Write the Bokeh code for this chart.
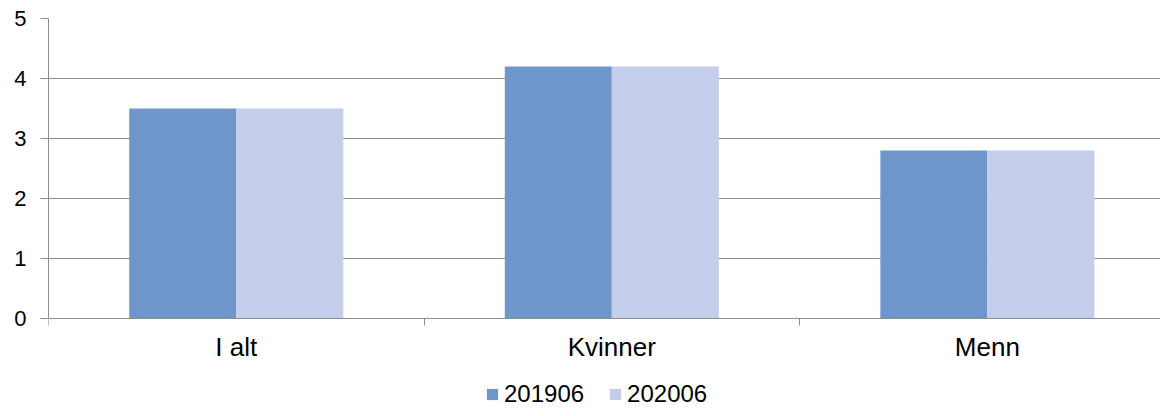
import numpy as np
from bokeh.plotting import figure
from bokeh.models import ColumnDataSource, FixedTicker, Range1d, Legend, LegendItem
from bokeh.transform import dodge
from bokeh.embed import file_html
from bokeh.resources import INLINE

categories = ["I alt", "Kvinner", "Menn"]
series_names = ["201906", "202006"]
values_201906 = [3.5, 4.2, 2.8]
values_202006 = [3.5, 4.2, 2.8]
y_ticks = [0, 1, 2, 3, 4, 5]

colors = ["#6E96CB", "#C4CDE9"]
FONT = "Liberation Sans"
GRID = "#8C8C8C"

centers = np.arange(len(categories)) + 0.5
source = ColumnDataSource(dict(x=centers, a=values_201906, b=values_202006))

# frame spans down to the bottom of the figure so the legend fits inside it;
# the x axis is pinned at y=0
p = figure(width=1160, height=408, output_backend="svg", toolbar_location=None,
           x_range=Range1d(0, 2.961), y_range=Range1d(-1.5, 5),
           min_border_left=48, min_border_right=0, min_border_top=18, min_border_bottom=0)
p.outline_line_color = None
p.background_fill_color = "white"
p.border_fill_color = "white"

bw = 0.285
r1 = p.vbar(x=dodge("x", -bw / 2, range=p.x_range), top="a", width=bw, bottom=0,
            source=source, fill_color=colors[0], line_color=None)
r2 = p.vbar(x=dodge("x", bw / 2, range=p.x_range), top="b", width=bw, bottom=0,
            source=source, fill_color=colors[1], line_color=None)

# x axis: labels at centers, ticks at boundaries
xa = p.xaxis[0]
xa.fixed_location = 0
xa.ticker = FixedTicker(ticks=list(centers),
                        minor_ticks=list(np.arange(len(categories) + 1)))
xa.major_label_overrides = {float(c): cat for c, cat in zip(centers, categories)}
xa.major_tick_line_color = None
xa.major_tick_out = 0
xa.major_tick_in = 0
xa.minor_tick_out = 7
xa.minor_tick_in = 0
xa.minor_tick_line_color = GRID
xa.axis_line_color = GRID
xa.major_label_text_font = FONT
xa.major_label_text_font_size = "26px"
xa.major_label_text_color = "black"
xa.major_label_standoff = 6

ya = p.yaxis[0]
ya.bounds = (0, 5)
ya.ticker = FixedTicker(ticks=y_ticks, minor_ticks=[])
ya.axis_line_color = GRID
ya.major_tick_line_color = GRID
ya.major_tick_out = 8
ya.major_tick_in = 0
ya.minor_tick_line_color = None
ya.major_label_text_font = FONT
ya.major_label_text_font_size = "22px"
ya.major_label_text_color = "black"
ya.major_label_standoff = 14

p.xgrid.grid_line_color = None
p.ygrid.grid_line_color = GRID
p.ygrid.grid_line_width = 1
p.ygrid.ticker = FixedTicker(ticks=y_ticks[1:])

legend = Legend(items=[LegendItem(label=series_names[0], renderers=[r1]),
                       LegendItem(label=series_names[1], renderers=[r2])],
                orientation="horizontal", location=(437, 0),
                glyph_width=14, glyph_height=14, label_height=14,
                label_standoff=5, spacing=24, padding=0, margin=0,
                border_line_color=None, background_fill_alpha=0,
                label_text_font=FONT, label_text_font_size="24px",
                label_text_color="black")
p.add_layout(legend, "center")

open("out.html", "w").write(file_html(p, INLINE))
